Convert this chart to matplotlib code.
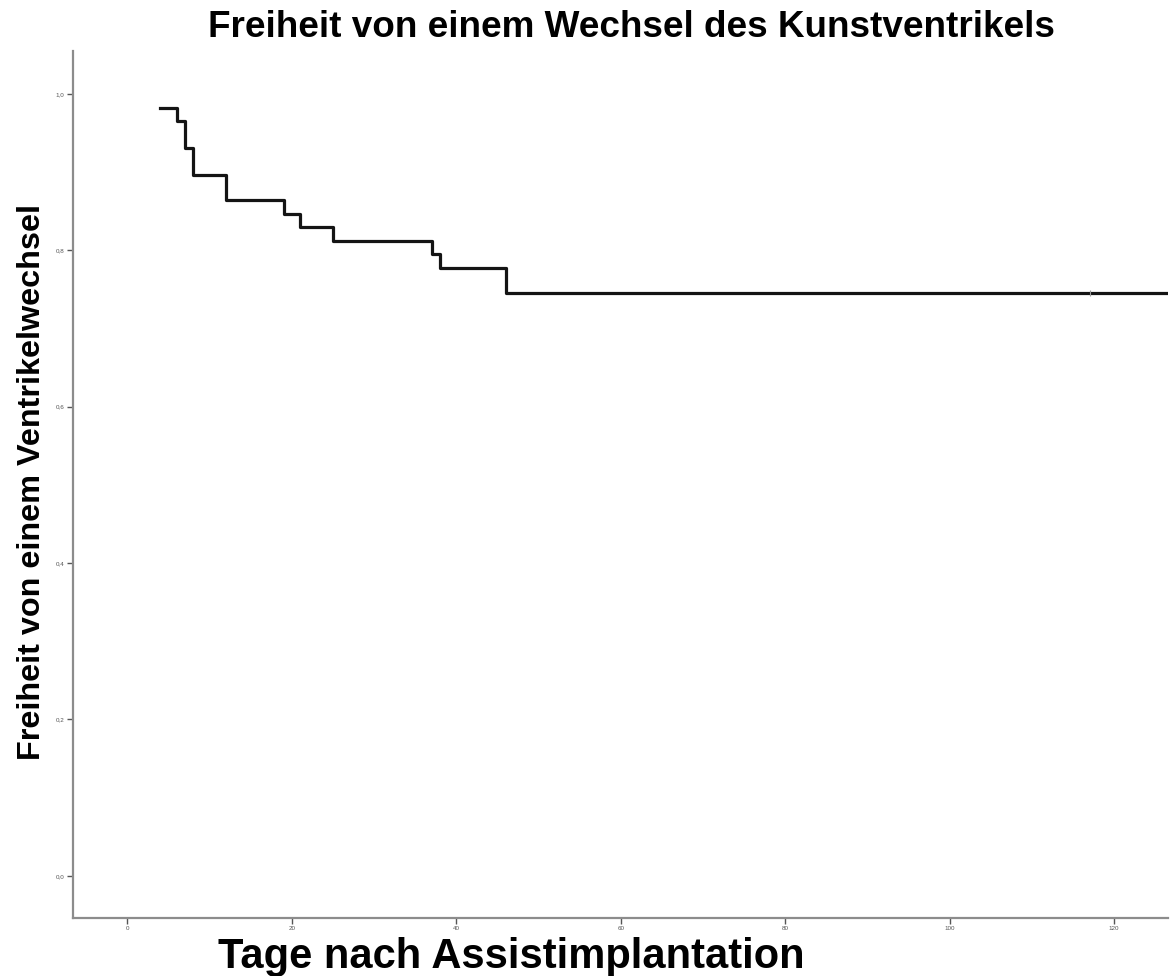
import matplotlib
matplotlib.use("Agg")
import matplotlib.pyplot as plt
from matplotlib.ticker import FuncFormatter

# Kaplan-Meier estimate: day of each step and survival after it
tage = [4, 6, 7, 8, 12, 19, 21, 25, 37, 38, 46, 126.5]
freiheit = [0.982, 0.965, 0.931, 0.897, 0.865, 0.847, 0.830, 0.812, 0.796, 0.778, 0.745, 0.745]
zensiert_tage = [117]
zensiert_werte = [0.745]

x_ticks = [0, 20, 40, 60, 80, 100, 120]
y_ticks = [0.0, 0.2, 0.4, 0.6, 0.8, 1.0]

plt.rcParams['font.family'] = ['Liberation Sans', 'DejaVu Sans']

fig = plt.figure(figsize=(11.7, 9.76), dpi=100)
ax = fig.add_axes([0.0624, 0.0594, 0.9356, 0.8883])

ax.step(tage, freiheit, where='post', color='#141414', linewidth=2.3)
ax.plot(zensiert_tage, zensiert_werte, linestyle='none', marker='|',
        markersize=5, color='#9a9a9a', markeredgewidth=0.8)

ax.set_xlim(-6.6, 126.5)
ax.set_ylim(-0.054, 1.055)
ax.set_xticks(x_ticks)
ax.set_yticks(y_ticks)
ax.yaxis.set_major_formatter(FuncFormatter(lambda v, p: f"{v:.1f}".replace('.', ',')))

for side in ['top', 'right']:
    ax.spines[side].set_visible(False)
for side in ['left', 'bottom']:
    ax.spines[side].set_color('#8c8c8c')
    ax.spines[side].set_linewidth(1.6)
ax.tick_params(axis='both', length=4, width=1.0, color='#555555',
               labelsize=4.5, labelcolor='#555555', pad=2)

fig.text(0.5397, 0.972, "Freiheit von einem Wechsel des Kunstventrikels",
         ha='center', va='center', fontsize=26.6, fontweight='bold')
fig.text(0.437, 0.0195, "Tage nach Assistimplantation",
         ha='center', va='center', fontsize=30, fontweight='bold')
fig.text(0.027, 0.506, "Freiheit von einem Ventrikelwechsel",
         ha='center', va='center', rotation=90, fontsize=23.3, fontweight='bold')

fig.savefig("out.png", dpi=100)
